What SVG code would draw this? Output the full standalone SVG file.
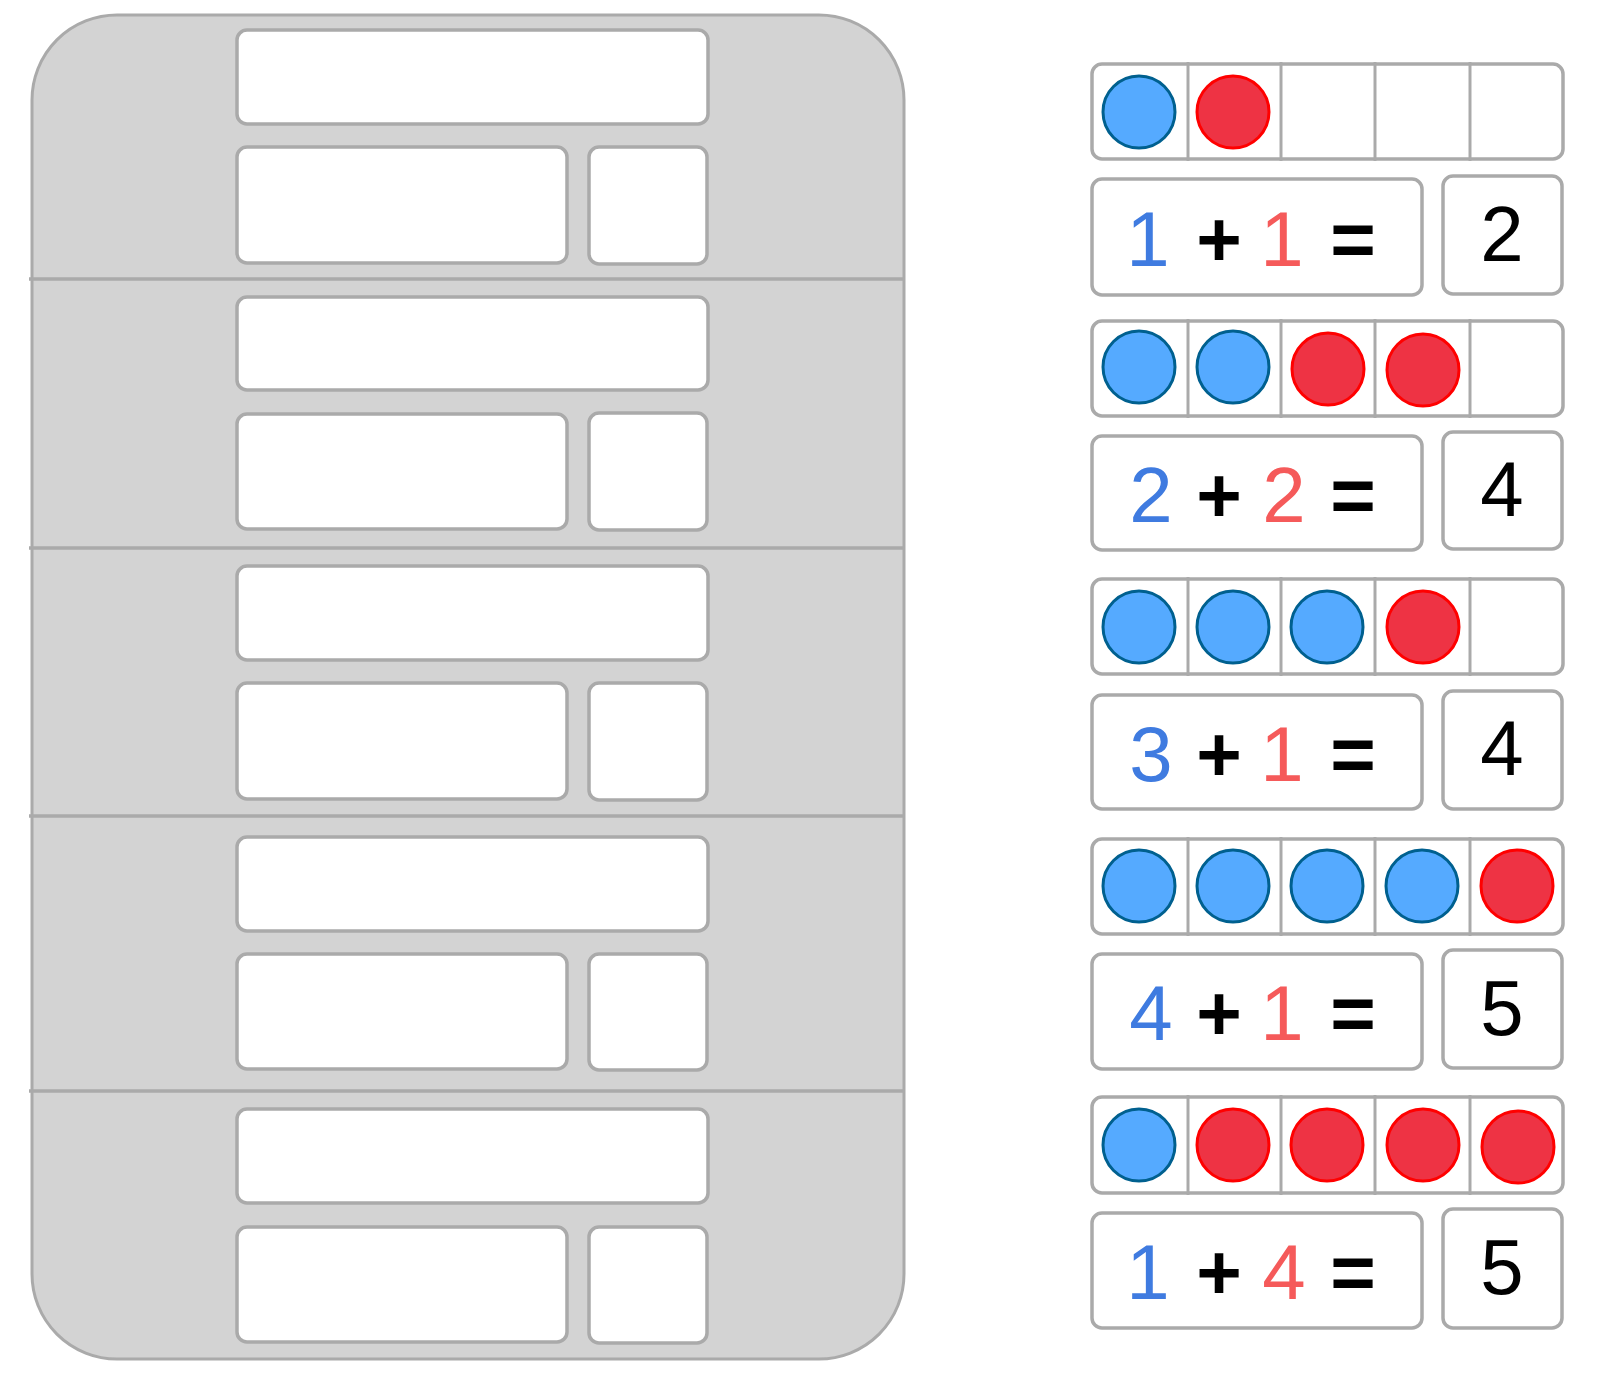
<svg xmlns="http://www.w3.org/2000/svg" width="1600" height="1378" viewBox="0 0 1600 1378">
<defs>
<style>
.panel{fill:#d3d3d3;stroke:#aaaaaa;stroke-width:3}
.div{stroke:#aaaaaa;stroke-width:3.5}
.box{fill:#ffffff;stroke:#aaaaaa;stroke-width:3.5}
.cell{stroke:#aaaaaa;stroke-width:3}
.b{fill:#55aaff;stroke:#00608f;stroke-width:3}
.r{fill:#ee3344;stroke:#ff0000;stroke-width:3}
text{font-family:"Liberation Sans",Arial,sans-serif;font-size:78px;text-anchor:middle}
.tb{fill:#3f7be0}
.tr{fill:#f55a5a}
.tk{fill:#000000}
.op{fill:#000000;font-weight:bold}
</style>
</defs>
<rect width="1600" height="1378" fill="#ffffff"/>
<g id="worksheet">
<rect class="panel" x="32" y="15" width="872" height="1344" rx="85" ry="85"/>
<g id="dividers">
<line class="div" x1="29" y1="279" x2="904" y2="279"/>
<line class="div" x1="29" y1="548" x2="904" y2="548"/>
<line class="div" x1="29" y1="816" x2="904" y2="816"/>
<line class="div" x1="29" y1="1091" x2="904" y2="1091"/>
</g>
<g id="slot1">
<rect class="box" x="237" y="30" width="471" height="94" rx="10"/>
<rect class="box" x="237" y="147" width="330" height="116" rx="10"/>
<rect class="box" x="589" y="147" width="118" height="117" rx="10"/>
</g>
<g id="slot2">
<rect class="box" x="237" y="297" width="471" height="93" rx="10"/>
<rect class="box" x="237" y="414" width="330" height="115" rx="10"/>
<rect class="box" x="589" y="413" width="118" height="117" rx="10"/>
</g>
<g id="slot3">
<rect class="box" x="237" y="566" width="471" height="94" rx="10"/>
<rect class="box" x="237" y="683" width="330" height="116" rx="10"/>
<rect class="box" x="589" y="683" width="118" height="117" rx="10"/>
</g>
<g id="slot4">
<rect class="box" x="237" y="837" width="471" height="94" rx="10"/>
<rect class="box" x="237" y="954" width="330" height="115" rx="10"/>
<rect class="box" x="589" y="954" width="118" height="116" rx="10"/>
</g>
<g id="slot5">
<rect class="box" x="237" y="1109" width="471" height="94" rx="10"/>
<rect class="box" x="237" y="1227" width="330" height="115" rx="10"/>
<rect class="box" x="589" y="1227" width="118" height="116" rx="10"/>
</g>
</g>

<g id="card1">
<rect class="box" x="1092" y="64" width="471" height="95" rx="10"/>
<line class="cell" x1="1188" y1="62" x2="1188" y2="161"/>
<line class="cell" x1="1281" y1="62" x2="1281" y2="161"/>
<line class="cell" x1="1375" y1="62" x2="1375" y2="161"/>
<line class="cell" x1="1470" y1="62" x2="1470" y2="161"/>
<circle class="b" cx="1139" cy="112" r="36"/>
<circle class="r" cx="1233" cy="112" r="36"/>
<rect class="box" x="1092" y="179" width="330" height="116" rx="10"/>
<rect class="box" x="1443" y="176" width="119" height="118" rx="10"/>
<text class="tb" x="1148" y="266">1</text>
<text class="op" x="1219" y="266">+</text>
<text class="tr" x="1282" y="266">1</text>
<text class="op" x="1353" y="266">=</text>
<text class="tk" x="1502" y="261">2</text>
</g>

<g id="card2">
<rect class="box" x="1092" y="321" width="471" height="95" rx="10"/>
<line class="cell" x1="1188" y1="319" x2="1188" y2="418"/>
<line class="cell" x1="1281" y1="319" x2="1281" y2="418"/>
<line class="cell" x1="1375" y1="319" x2="1375" y2="418"/>
<line class="cell" x1="1470" y1="319" x2="1470" y2="418"/>
<circle class="b" cx="1139" cy="367" r="36"/>
<circle class="b" cx="1233" cy="367" r="36"/>
<circle class="r" cx="1328" cy="369" r="36"/>
<circle class="r" cx="1423" cy="370" r="36"/>
<rect class="box" x="1092" y="436" width="330" height="114" rx="10"/>
<rect class="box" x="1443" y="432" width="119" height="117" rx="10"/>
<text class="tb" x="1151" y="522">2</text>
<text class="op" x="1219" y="522">+</text>
<text class="tr" x="1284" y="522">2</text>
<text class="op" x="1353" y="522">=</text>
<text class="tk" x="1502" y="516">4</text>
</g>

<g id="card3">
<rect class="box" x="1092" y="579" width="471" height="95" rx="10"/>
<line class="cell" x1="1188" y1="577" x2="1188" y2="676"/>
<line class="cell" x1="1281" y1="577" x2="1281" y2="676"/>
<line class="cell" x1="1375" y1="577" x2="1375" y2="676"/>
<line class="cell" x1="1470" y1="577" x2="1470" y2="676"/>
<circle class="b" cx="1139" cy="627" r="36"/>
<circle class="b" cx="1233" cy="627" r="36"/>
<circle class="b" cx="1327" cy="627" r="36"/>
<circle class="r" cx="1423" cy="627" r="36"/>
<rect class="box" x="1092" y="695" width="330" height="114" rx="10"/>
<rect class="box" x="1443" y="691" width="119" height="118" rx="10"/>
<text class="tb" x="1151" y="781">3</text>
<text class="op" x="1219" y="781">+</text>
<text class="tr" x="1282" y="781">1</text>
<text class="op" x="1353" y="781">=</text>
<text class="tk" x="1502" y="775">4</text>
</g>

<g id="card4">
<rect class="box" x="1092" y="839" width="471" height="95" rx="10"/>
<line class="cell" x1="1188" y1="837" x2="1188" y2="936"/>
<line class="cell" x1="1281" y1="837" x2="1281" y2="936"/>
<line class="cell" x1="1375" y1="837" x2="1375" y2="936"/>
<line class="cell" x1="1470" y1="837" x2="1470" y2="936"/>
<circle class="b" cx="1139" cy="886" r="36"/>
<circle class="b" cx="1233" cy="886" r="36"/>
<circle class="b" cx="1327" cy="886" r="36"/>
<circle class="b" cx="1422" cy="886" r="36"/>
<circle class="r" cx="1517" cy="886" r="36"/>
<rect class="box" x="1092" y="954" width="330" height="115" rx="10"/>
<rect class="box" x="1443" y="950" width="119" height="118" rx="10"/>
<text class="tb" x="1151" y="1040">4</text>
<text class="op" x="1219" y="1040">+</text>
<text class="tr" x="1282" y="1040">1</text>
<text class="op" x="1353" y="1040">=</text>
<text class="tk" x="1502" y="1035">5</text>
</g>

<g id="card5">
<rect class="box" x="1092" y="1097" width="471" height="96" rx="10"/>
<line class="cell" x1="1188" y1="1095" x2="1188" y2="1195"/>
<line class="cell" x1="1281" y1="1095" x2="1281" y2="1195"/>
<line class="cell" x1="1375" y1="1095" x2="1375" y2="1195"/>
<line class="cell" x1="1470" y1="1095" x2="1470" y2="1195"/>
<circle class="b" cx="1139" cy="1145" r="36"/>
<circle class="r" cx="1233" cy="1145" r="36"/>
<circle class="r" cx="1327" cy="1145" r="36"/>
<circle class="r" cx="1423" cy="1145" r="36"/>
<circle class="r" cx="1518" cy="1147" r="36"/>
<rect class="box" x="1092" y="1213" width="330" height="115" rx="10"/>
<rect class="box" x="1443" y="1209" width="119" height="119" rx="10"/>
<text class="tb" x="1148" y="1299">1</text>
<text class="op" x="1219" y="1299">+</text>
<text class="tr" x="1284" y="1299">4</text>
<text class="op" x="1353" y="1299">=</text>
<text class="tk" x="1502" y="1294">5</text>
</g>
</svg>
